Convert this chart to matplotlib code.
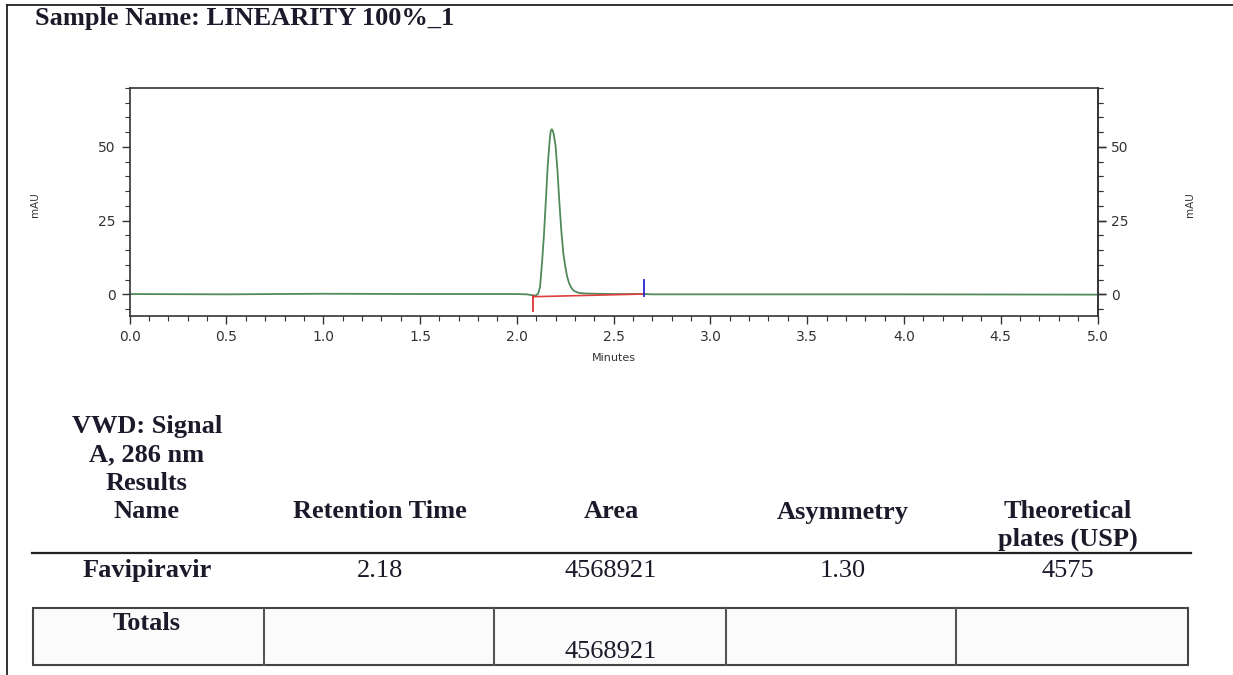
import matplotlib
matplotlib.use("Agg")
import matplotlib.pyplot as plt
from matplotlib.lines import Line2D
from matplotlib.ticker import MultipleLocator, FormatStrFormatter

# Chromatogram trace (minutes, mAU)
time_min = [0.0, 0.5, 1.0, 1.5, 2.0, 2.05, 2.09, 2.10, 2.11, 2.12,
            2.13, 2.14, 2.15, 2.16, 2.17, 2.175, 2.18, 2.185, 2.19, 2.20,
            2.21, 2.22, 2.23, 2.24, 2.25, 2.26, 2.27, 2.28, 2.29, 2.30,
            2.32, 2.35, 2.40, 2.50, 2.66, 2.70, 3.0, 4.0, 5.0]
signal_mau = [0.1, 0.0, 0.2, 0.1, 0.1, 0.0, -0.4, -0.3, 0.2, 2.5,
              10.5, 20.0, 31.8, 44.0, 52.5, 55.3, 56.0, 55.6, 54.5, 50.5,
              42.0, 31.0, 21.5, 14.0, 9.6, 6.0, 3.8, 2.4, 1.5, 1.0,
              0.5, 0.3, 0.2, 0.1, 0.1, 0.0, 0.0, 0.0, -0.1]

# Integration baseline and peak start/end markers
baseline_t = [2.086, 2.655]
baseline_v = [-0.8, 0.1]
peak_start = (2.086, -0.6, -5.5)
peak_end = (2.655, -0.6, 4.8)

# Results table
sample_name = "Sample Name: LINEARITY 100%_1"
header_cols = ["Retention Time", "Area", "Asymmetry", "Theoretical\nplates (USP)"]
peak_names = ["Favipiravir"]
retention_time = [2.18]
peak_area = [4568921]
asymmetry = [1.30]
plates_usp = [4575]
total_area = 4568921

W, H = 1233, 675
fig = plt.figure(figsize=(W / 100, H / 100), dpi=100)

def fx(px):
    return px / W

def fy(py):
    return 1 - py / H

# page frame (top and left edges)
fig.add_artist(Line2D([fx(7), 1.0], [fy(5), fy(5)], color="#222222", lw=1.3))
fig.add_artist(Line2D([fx(7), fx(7)], [fy(5), 0.0], color="#222222", lw=1.3))

serif = "Liberation Serif"
fig.text(fx(35), fy(19), sample_name, fontsize=19, fontweight="bold",
         family=serif, color="#1a1a2a", ha="left", va="center")

# chromatogram
ax = fig.add_axes([fx(129.7), fy(316), fx(1097.5) - fx(129.7), fy(88) - fy(316)])
ax.plot(time_min, signal_mau, color="#4f8a5a", lw=1.3)
ax.plot(baseline_t, baseline_v, color="#e04040", lw=1.2)
ax.plot([peak_start[0]] * 2, peak_start[1:], color="#e03030", lw=1.3)
ax.plot([peak_end[0]] * 2, peak_end[1:], color="#2a2ad0", lw=1.3)

ax.set_xlim(0, 5.0)
ax.set_ylim(-7.35, 70)
ax.xaxis.set_major_locator(MultipleLocator(0.5))
ax.xaxis.set_minor_locator(MultipleLocator(0.1))
ax.xaxis.set_major_formatter(FormatStrFormatter("%.1f"))
ax.set_yticks([0, 25, 50])
ax.yaxis.set_minor_locator(MultipleLocator(5))

tick_style = dict(direction="out", color="#333333")
for a in (ax,):
    for s in a.spines.values():
        s.set_color("#333333")
        s.set_linewidth(1.2)
ax.tick_params(which="major", length=6, width=1.0, labelsize=10,
               labelcolor="#333333", pad=4, **tick_style)
ax.tick_params(which="minor", length=3.5, width=0.8, **tick_style)
ax.tick_params(which="both", right=True, top=False)

sec = ax.secondary_yaxis("right")
sec.set_yticks([0, 25, 50])
sec.yaxis.set_minor_locator(MultipleLocator(5))
sec.tick_params(which="major", length=6, width=1.0, labelsize=10,
                labelcolor="#333333", pad=4, **tick_style)
sec.tick_params(which="minor", length=3.5, width=0.8, **tick_style)
sec.spines["right"].set_color("#333333")
sec.spines["right"].set_linewidth(1.2)

ax.set_ylabel("mAU", fontsize=7.5, color="#333333")
ax.yaxis.set_label_coords(-0.0927, 0.49)
fig.text(fx(1190), fy(205), "mAU", rotation=90, fontsize=7.5, color="#333333",
         ha="center", va="center")
ax.set_xlabel("Minutes", fontsize=8, color="#333333")
ax.xaxis.set_label_coords(0.5, -0.162)

# results table
txt = dict(family=serif, color="#1a1a2a", ha="center", va="center")
name_x = 147
fig.text(fx(name_x), fy(427), "VWD: Signal", fontsize=19, fontweight="bold", **txt)
fig.text(fx(name_x), fy(455), "A, 286 nm", fontsize=19, fontweight="bold", **txt)
fig.text(fx(name_x), fy(483), "Results", fontsize=19, fontweight="bold", **txt)
fig.text(fx(name_x), fy(512), "Name", fontsize=19, fontweight="bold", **txt)

col_x = [380, 611, 843, 1068]
for x, lab in zip(col_x, header_cols):
    if "\n" in lab:
        top, bot = lab.split("\n")
        fig.text(fx(x), fy(512), top, fontsize=19, fontweight="bold", **txt)
        fig.text(fx(x), fy(539), bot, fontsize=19, fontweight="bold", **txt)
    else:
        fig.text(fx(x), fy(512), lab, fontsize=19, fontweight="bold", **txt)

fig.add_artist(Line2D([fx(32), fx(1191)], [fy(553), fy(553)], color="#222222", lw=1.6))

for i, name in enumerate(peak_names):
    y = fy(571 + 30 * i)
    fig.text(fx(name_x), y, name, fontsize=19, fontweight="bold", **txt)
    fig.text(fx(col_x[0]), y, f"{retention_time[i]:.2f}", fontsize=19, **txt)
    fig.text(fx(col_x[1]), y, f"{peak_area[i]}", fontsize=19, **txt)
    fig.text(fx(col_x[2]), y, f"{asymmetry[i]:.2f}", fontsize=19, **txt)
    fig.text(fx(col_x[3]), y, f"{plates_usp[i]}", fontsize=19, **txt)

# totals box
box_l, box_r, box_t, box_b = 33, 1188, 608, 665
dividers = [264, 494, 726, 956]
box = plt.Rectangle((fx(box_l), fy(box_b)), fx(box_r) - fx(box_l), fy(box_t) - fy(box_b),
                    transform=fig.transFigure, facecolor="#fbfbfb", edgecolor="#444444", lw=1.5)
fig.add_artist(box)
for d in dividers:
    fig.add_artist(Line2D([fx(d), fx(d)], [fy(box_t), fy(box_b)], color="#555555", lw=1.5))
fig.text(fx(name_x), fy(623), "Totals", fontsize=19, fontweight="bold", **txt)
fig.text(fx(col_x[1]), fy(652), f"{total_area}", fontsize=19, **txt)

fig.savefig("out.png", dpi=100, facecolor="white")
